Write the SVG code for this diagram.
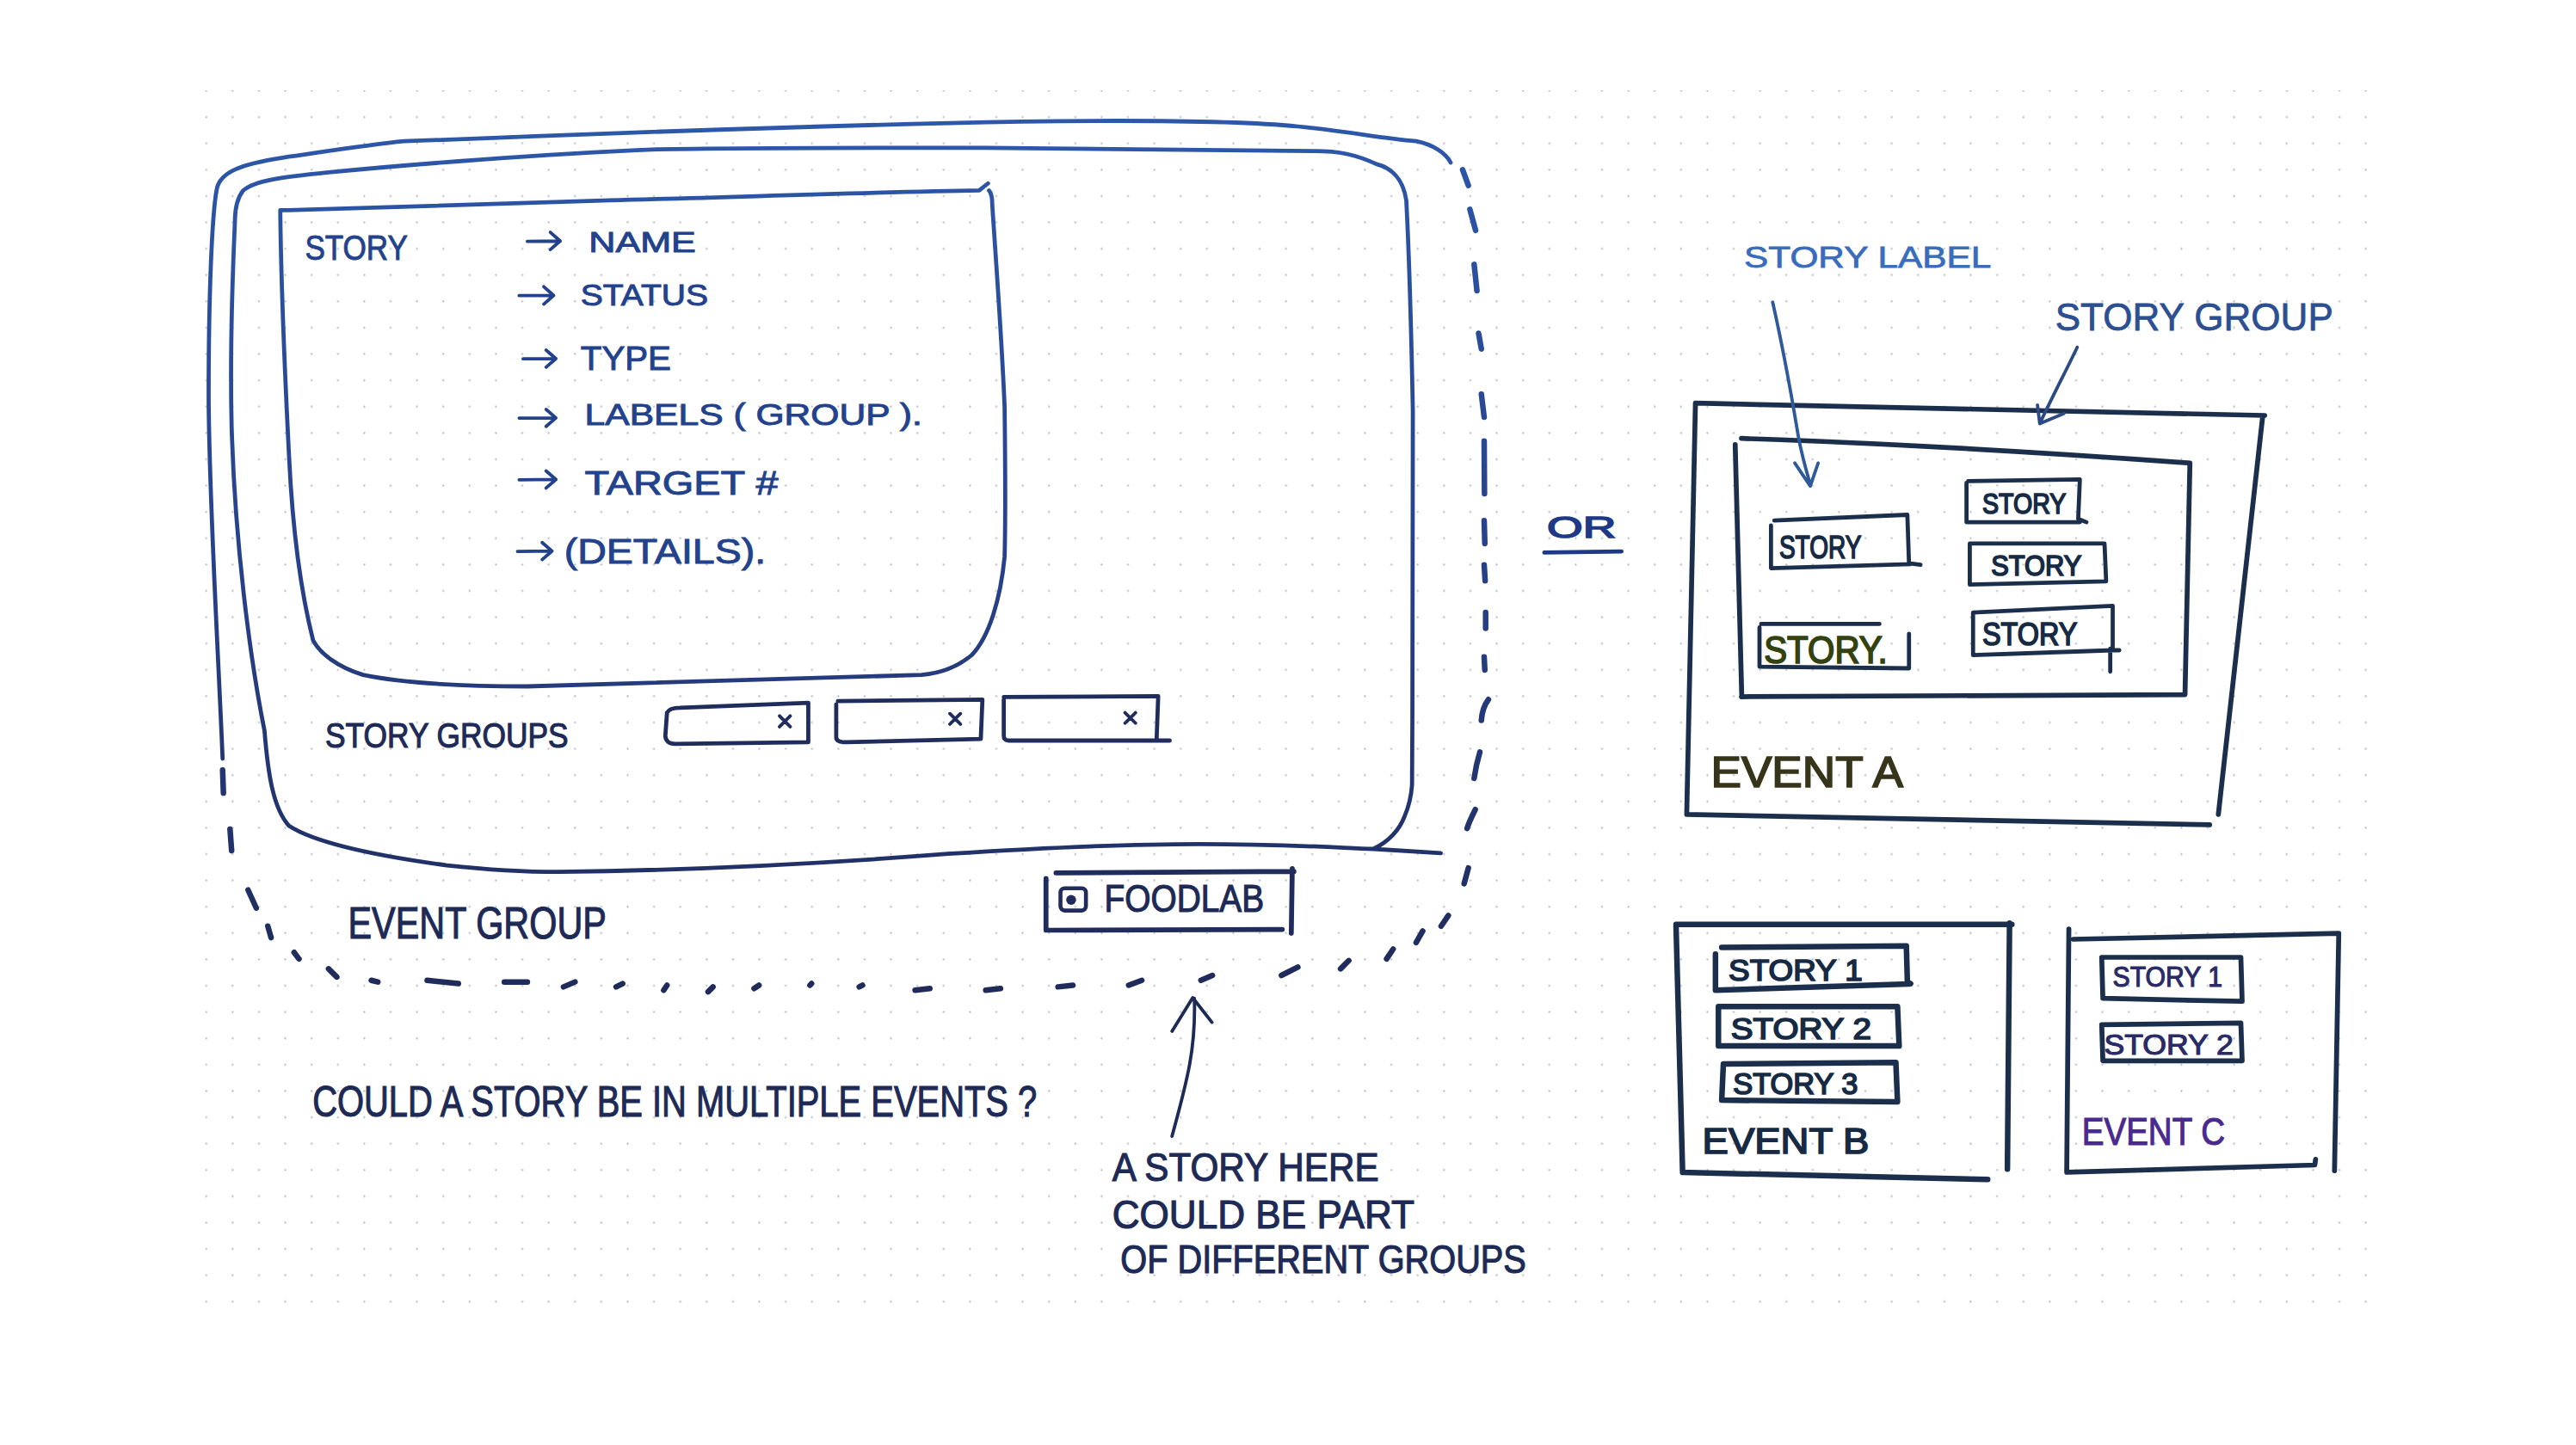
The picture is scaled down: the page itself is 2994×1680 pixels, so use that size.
<svg xmlns="http://www.w3.org/2000/svg" width="2994" height="1680" viewBox="0 0 2994 1680">
<defs>
<pattern id="dots" patternUnits="userSpaceOnUse" x="5.35" y="-0.8" width="16.03" height="16.03"><circle cx="8" cy="8" r="0.6" fill="#b3b8c4"/></pattern>
<linearGradient id="ink" gradientUnits="userSpaceOnUse" x1="0" y1="70" x2="0" y2="610"><stop offset="0" stop-color="#2d58aa"/><stop offset="0.55" stop-color="#263f86"/><stop offset="1" stop-color="#1f2a58"/></linearGradient>
<style>
.pen{fill:none;stroke-linecap:round;stroke-linejoin:round}
.ink{stroke:url(#ink)}
.navy{stroke:#1f2c5c}
.dk{stroke:#1b2f4c}
.w2{stroke-width:2}
.w25{stroke-width:2.5}
.w3{stroke-width:3}
.w35{stroke-width:3.4}
.t{font-family:'Liberation Sans','DejaVu Sans',sans-serif;letter-spacing:0}
.tl{fill:#23428c;stroke:#23428c;stroke-width:0.5}
.tn{fill:#1e2a56;stroke:#1e2a56;stroke-width:0.6}
.tb{fill:#172a44;stroke:#172a44;stroke-width:0.9}
</style>
</defs>
<rect width="2994" height="1680" fill="#ffffff"/>
<g transform="scale(1.90944,1.90909)">
<rect x="120" y="55" width="1332" height="748" fill="url(#dots)"/>

<g id="event-group">
<path class="pen ink w25" d="M135.5,462 C133,400 127,300 127,240 C127,180 129,130 132,115 C134,105 146,100 172,96 C200,92 225,88 246,86 L300,84 C400,80 520,76 622,74 C700,73 760,74 790,77 C820,80 840,84 862,86 C872,88 880,93 883,99"/>
<path class="pen ink w35" d="M890.3,103.4 L893.8,113 M894.7,127.5 L898.2,140.3 M897.3,161 L899,177 M900,203 L901.7,212.5 M901.7,240 L903.4,254 M903.4,268.6 L903.6,300.7 M903.4,317 L903.8,331 M903.4,344 L904,353.7 M904.3,373 L904.3,382.6 M903.4,400 L903.8,408 M906,426 C903,430 902,434 901.7,438.7 M900.8,458 C899,464 898,469 897.3,474 M898,493 C896,497 894,501 893,504.5 M893.8,528.6 L891.2,538.2 M881.6,557.5 L877.2,564 M866,567 L862,574 M848,578 L844,584 M821,585 L816,590 M790,589 L780,594 M738,594 L731,597 M695,597 L687,600 M653,600 L644,601 M609,602 L600,603 M566,602 L557,603 M525,600 L523,601 M494,599 L493,600 M462,600 L459,602 M434,601 L431,604 M406,600 L404,603 M379,599 L375,601 M350,598 L343,601 M321,598 L307,598 M279,599 L260,597 M230,598 L226,597 M205,595 L200,590 M182,584 L179,580 M165,571 L163,564 M156,553 L151,542 M141,518 L140,505 M136,483 L135.5,469"/>
<text class="t tn" x="211.8" y="571.5" font-size="27" textLength="157.4" lengthAdjust="spacingAndGlyphs">EVENT GROUP</text>
</g>

<g id="event-frame">
<path class="pen ink w25" d="M143,135 C141,180 140,220 141,260 C143,330 152,400 161,445 C163,470 166,492 176,503 C190,512 220,520 272,527 C300,530 320,531 340,531 C420,530 500,526 577,520 C640,516 690,514 730,514 C780,514 810,516 836,517 L877,519.5 M836,517 C846,512 852,505 855,497 C858,490 859,485 859.5,478 C860,400 860,320 860,250 C859,200 858,160 856,122 C854,108 846,102 838,100 C825,94 815,92 800,92 L600,90 C500,90 450,90 400,91 C330,94 250,100 200,105 C170,108 155,110 148,116 C144,121 143,128 143,135"/>
</g>

<g id="story-panel">
<path class="pen ink w25" d="M170.6,128 L175.6,128 C250,126 310,124 371,122 C450,120 530,117 596,116 L601.4,111.7 M602,116 C604,118 604,122 604,125 C607,170 610,210 611.5,248 C612,290 612,320 611.5,339 C609,365 602,388 591.4,399 C583,406 573,410 561,411 C480,414 400,416 321,418 C280,418 245,416 221,411 C205,406 195,398 190.6,390 C183,360 178,320 176,279 C173,220 171,170 170.6,128"/>
<text class="t tl" x="185.6" y="158" font-size="21" textLength="62.6" lengthAdjust="spacingAndGlyphs">STORY</text>
<g class="pen w2" stroke="#23428c">
<path d="M321,147 L341,146.8 M335,141.5 L341,146.8 L335,152"/>
<path d="M316,180 L337,179.9 M331,174.6 L337,179.9 L331,185.2"/>
<path d="M318.4,218.5 L338.4,218.4 M332.4,213.2 L338.4,218.4 L332.4,223.6"/>
<path d="M316,254.6 L338.4,254.5 M332.4,249.3 L338.4,254.5 L332.4,259.7"/>
<path d="M316,292.2 L338.4,292 M332.4,286.8 L338.4,292 L332.4,297.2"/>
<path d="M315,335.8 L336,335.6 M330,330.4 L336,335.6 L330,340.8"/>
</g>
<text class="t tl" x="358.4" y="153.7" font-size="17" textLength="65.2" lengthAdjust="spacingAndGlyphs">NAME</text>
<text class="t tl" x="353.4" y="186.2" font-size="18" textLength="77.6" lengthAdjust="spacingAndGlyphs">STATUS</text>
<text class="t tl" x="353.4" y="225.3" font-size="20" textLength="55.1" lengthAdjust="spacingAndGlyphs">TYPE</text>
<text class="t tl" x="355.9" y="259" font-size="18.5" textLength="205.4" lengthAdjust="spacingAndGlyphs">LABELS ( GROUP ).</text>
<text class="t tl" x="355.9" y="301" font-size="20" textLength="117.8" lengthAdjust="spacingAndGlyphs">TARGET #</text>
<text class="t tl" x="343.4" y="343" font-size="21" textLength="122.8" lengthAdjust="spacingAndGlyphs">(DETAILS).</text>
</g>

<g id="story-groups-row">
<text class="t tn" x="198" y="455" font-size="21" textLength="148" lengthAdjust="spacingAndGlyphs">STORY GROUPS</text>
<path class="pen navy w25" d="M406,434 L405,448 C405,451 407,453 411,453 L492,452 L492,428 L414,431 C410,431 407,432 406,434"/>
<path class="pen navy w25" d="M509,429 L509,449 C509,451 511,452 515,452 L597,450 L598,426 L510,427"/>
<path class="pen navy w25" d="M611,426 L611,448 C611,450 612,451 614,451 L712,451 M704,451 L705,424 L611,424.5"/>
<path class="pen navy w2" d="M474.5,436 L481,442.6 M481,436 L474.5,442.6 M578.2,434.6 L584.6,441 M584.6,434.6 L578.2,441 M684.8,434 L691.2,440.4 M691.2,434 L684.8,440.4"/>
</g>

<g id="foodlab">
<path class="pen navy w3" d="M642.8,531.6 L787.6,530.7 M636.7,535 L636.7,566.5 L780.5,566 M786.6,529 L786,568.3"/>
<rect x="645.5" y="541" width="15.5" height="13.5" rx="2.5" fill="none" stroke="#1f2c5c" stroke-width="2.4"/>
<circle cx="652" cy="548" r="3" fill="#1f2c5c"/>
<text class="t tn" x="672.2" y="555" font-size="23" textLength="97.2" lengthAdjust="spacingAndGlyphs">FOODLAB</text>
</g>

<g id="question">
<text class="t tn" x="190.2" y="680" font-size="26" textLength="441" lengthAdjust="spacingAndGlyphs">COULD A STORY BE IN MULTIPLE EVENTS ?</text>
</g>

<g id="note-groups">
<text class="t tn" x="677" y="719" font-size="24" textLength="162.3" lengthAdjust="spacingAndGlyphs">A STORY HERE</text>
<text class="t tn" x="677" y="748" font-size="24" textLength="184" lengthAdjust="spacingAndGlyphs">COULD BE PART</text>
<text class="t tn" x="682" y="775" font-size="24" textLength="247" lengthAdjust="spacingAndGlyphs">OF DIFFERENT GROUPS</text>
</g>

<g id="or">
<text class="t" x="941.7" y="327.5" font-size="18" textLength="42" lengthAdjust="spacingAndGlyphs" fill="#1e3a86" stroke="#1e3a86" stroke-width="0.8">OR</text>
<path class="pen w25" stroke="#1e3a86" d="M940,336.5 L987,335.8"/>
</g>

<g id="story-label-note">
<text class="t" x="1061.6" y="163" font-size="18" textLength="150.4" lengthAdjust="spacingAndGlyphs" fill="#3a6cbd" stroke="#3a6cbd" stroke-width="0.4">STORY LABEL</text>
</g>
<g id="story-group-note">
<text class="t" x="1251" y="201" font-size="23" textLength="169.2" lengthAdjust="spacingAndGlyphs" fill="#2c4f92" stroke="#2c4f92" stroke-width="0.4">STORY GROUP</text>
</g>

<g id="event-a">
<path class="pen dk w3" d="M1032,245.5 L1378.5,253 M1377.2,254.3 L1350.3,496 M1345,502.3 L1026.7,496 L1032,245.5"/>
<g id="story-group-a">
<path class="pen dk w3" d="M1060,267 C1150,270 1250,276 1333,282 L1330,423 L1060,424.3 M1056.2,270.7 L1060.2,424.3"/>
</g>
<g id="story-a1">
<path class="pen dk w25" d="M1078,346 L1078,320 M1080,317 L1161,313.5 L1162,343 L1169,344 M1078,346 L1163,343.5"/>
<text class="t tb" x="1083" y="340" font-size="19" textLength="50" lengthAdjust="spacingAndGlyphs">STORY</text>
</g>
<g id="story-a2">
<path class="pen dk w25" d="M1198,293 L1266,292 L1265,316 L1270,318 M1197,294 L1197,318 L1266,318"/>
<text class="t tb" x="1206.6" y="312.5" font-size="17" textLength="51" lengthAdjust="spacingAndGlyphs">STORY</text>
</g>
<g id="story-a3">
<path class="pen dk w25" d="M1199,331 L1281,331 L1282,354 L1199,356 Z"/>
<text class="t tb" x="1212" y="350.5" font-size="17" textLength="55" lengthAdjust="spacingAndGlyphs">STORY</text>
</g>
<g id="story-a4">
<path class="pen dk w25" d="M1071,382 L1071,406 L1162,407 L1162,386 M1072,380 L1144,380"/>
<text class="t" x="1073.7" y="404" font-size="23" textLength="75.2" lengthAdjust="spacingAndGlyphs" fill="#34420f" stroke="#34420f" stroke-width="0.9">STORY.</text>
</g>
<g id="story-a5">
<path class="pen dk w25" d="M1201,373 L1286,369 L1286,396 L1201,399 Z M1284.5,395 L1284.5,409 M1286,396 L1290,396"/>
<text class="t tb" x="1206.6" y="393" font-size="19" textLength="57.8" lengthAdjust="spacingAndGlyphs">STORY</text>
</g>
<text class="t" x="1041.4" y="479.5" font-size="26" textLength="117" lengthAdjust="spacingAndGlyphs" fill="#36351a" stroke="#36351a" stroke-width="0.9">EVENT A</text>
</g>

<g id="event-b">
<path class="pen dk w35" d="M1020.2,563 L1224.6,563 M1020.2,564 L1024.2,714 L1209.9,718.3 M1223.2,562.2 L1221.9,712"/>
<g id="story-b1">
<path class="pen dk w35" d="M1048,577 L1160.4,576 L1161,598 L1163,599 M1044.2,581 L1044.2,603 L1161.8,599.3"/>
<text class="t tb" x="1052.2" y="597" font-size="18" textLength="81.5" lengthAdjust="spacingAndGlyphs">STORY 1</text>
</g>
<g id="story-b2">
<path class="pen dk w35" d="M1046,613 L1155,613 L1156,637 L1046,637 Z"/>
<text class="t tb" x="1053.6" y="633" font-size="18" textLength="85.4" lengthAdjust="spacingAndGlyphs">STORY 2</text>
</g>
<g id="story-b3">
<path class="pen dk w35" d="M1049,648 L1154,647 L1155,671 L1048,670 Z"/>
<text class="t tb" x="1054.9" y="666.5" font-size="18" textLength="76" lengthAdjust="spacingAndGlyphs">STORY 3</text>
</g>
<text class="t tb" x="1036.2" y="702.5" font-size="22" textLength="101.5" lengthAdjust="spacingAndGlyphs">EVENT B</text>
</g>

<g id="event-c">
<path class="pen dk w3" d="M1262,572 L1423.6,568.4 M1259.3,565.8 L1258,713.9 L1409,709.5 L1409.5,706 M1423.6,568.4 L1421,713"/>
<g id="story-c1">
<path class="pen dk w3" d="M1279.3,583 L1364,583 L1364.8,609.8 L1280,608 Z"/>
<text class="t" x="1286" y="601" font-size="17" textLength="66.8" lengthAdjust="spacingAndGlyphs" fill="#2a2b66" stroke="#2a2b66" stroke-width="0.6">STORY 1</text>
</g>
<g id="story-c2">
<path class="pen dk w3" d="M1279.3,624 L1364,623 L1364.8,646 L1280,646 Z"/>
<text class="t" x="1280.7" y="642" font-size="17" textLength="78.8" lengthAdjust="spacingAndGlyphs" fill="#2a2b66" stroke="#2a2b66" stroke-width="0.6">STORY 2</text>
</g>
<text class="t" x="1267.3" y="697" font-size="23" textLength="87" lengthAdjust="spacingAndGlyphs" fill="#4a2a8e" stroke="#4a2a8e" stroke-width="0.6">EVENT C</text>
</g>

<g id="connectors">
<path class="pen w2" stroke="#1e2a56" d="M713.4,692 C722,660 728,640 727,608 M713.4,628 L726,607.6 L737.7,622.6"/>
<path class="pen w2" stroke="#2e5a9a" d="M1079,184 C1086,215 1092,250 1094,262 C1096,275 1099,285 1101.9,295 M1092.5,282 L1101.9,296 L1106.7,282"/>
<path class="pen w2" stroke="#2c4a84" d="M1264.4,211.5 C1258,225 1250,240 1241.6,258 M1240.2,246.7 L1241.6,258 L1256.3,251.8"/>
</g>
</g>
</svg>
